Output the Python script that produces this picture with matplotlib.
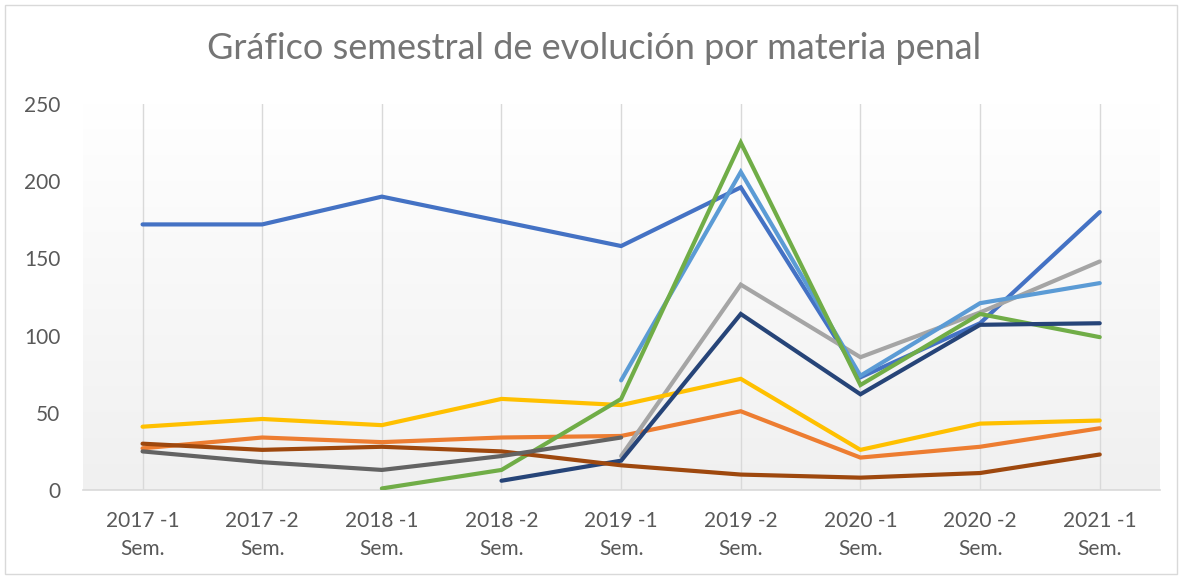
import numpy as np
import matplotlib.pyplot as plt
from matplotlib.patches import Rectangle
from matplotlib.colors import LinearSegmentedColormap

nan = np.nan
semestres = ['2017 -1\nSem.', '2017 -2\nSem.', '2018 -1\nSem.', '2018 -2\nSem.', '2019 -1\nSem.',
             '2019 -2\nSem.', '2020 -1\nSem.', '2020 -2\nSem.', '2021 -1\nSem.']

serie1 = [172, 172, 190, 174, 158, 196, 73, 108, 180]
serie2 = [27, 34, 31, 34, 35, 51, 21, 28, 40]
serie3 = [nan, nan, nan, nan, 22, 133, 86, 115, 148]
serie4 = [41, 46, 42, 59, 55, 72, 26, 43, 45]
serie5 = [nan, nan, nan, nan, 71, 206, 74, 121, 134]
serie6 = [nan, nan, 1, 13, 59, 225, 68, 114, 99]
serie7 = [nan, nan, nan, 6, 19, 114, 62, 107, 108]
serie8 = [30, 26, 28, 25, 16, 10, 8, 11, 23]
serie9 = [25, 18, 13, 22, 34, nan, nan, nan, nan]

series = [serie1, serie2, serie3, serie4, serie5, serie6, serie7, serie8, serie9]
colores = ['#4472C4', '#ED7D31', '#A5A5A5', '#FFC000', '#5B9BD5',
           '#70AD47', '#264478', '#9E480E', '#636363']

plt.rcParams['font.family'] = ['Lato', 'DejaVu Sans']

fig = plt.figure(figsize=(11.82, 5.79), dpi=100)
ax = fig.add_axes([0.070, 0.1537, 0.911, 0.6667])

x = np.arange(len(semestres))

# fondo degradado del area de trazado
grad = np.linspace(1.0, 0.0, 256).reshape(-1, 1)
cmap = LinearSegmentedColormap.from_list('g', ['#f0f0f0', '#ffffff'])
ax.imshow(grad, extent=(-0.5, 8.5, 0, 250), aspect='auto', zorder=0, cmap=cmap)

for s, c in zip(series, colores):
    ax.plot(x, s, color=c, lw=3, solid_capstyle='round', solid_joinstyle='miter', zorder=3)

ax.set_xlim(-0.5, 8.5)
ax.set_ylim(0, 250)
ax.set_yticks([0, 50, 100, 150, 200, 250])
ax.set_xticks(x)
ax.set_xticklabels(semestres, linespacing=1.5)
ax.grid(axis='x', color='#d9d9d9', lw=1, zorder=1)
ax.set_axisbelow(True)
for side in ['top', 'right', 'left']:
    ax.spines[side].set_visible(False)
ax.spines['bottom'].set_color('#d9d9d9')
ax.spines['bottom'].set_linewidth(1.2)
ax.tick_params(length=0, labelsize=15, colors='#595959')
ax.tick_params(axis='x', pad=15)
ax.tick_params(axis='y', pad=16)

fig.text(0.503, 0.917, 'Gráfico semestral de evolución por materia penal', ha='center', va='center',
         fontsize=26, color='#757575')

fig.patches.append(Rectangle((5 / 1182, 5 / 579), 1172 / 1182, 569 / 579, transform=fig.transFigure,
                             fill=False, edgecolor='#d9d9d9', lw=1))

fig.savefig('out.png', dpi=100)
